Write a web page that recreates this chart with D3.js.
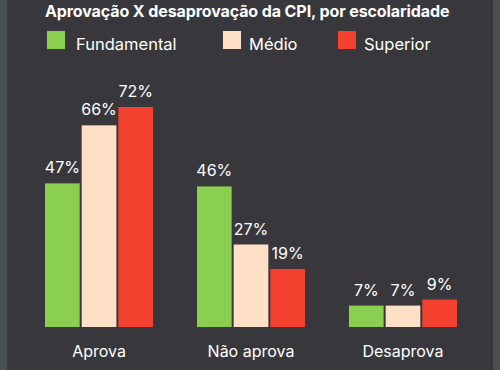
<!DOCTYPE html>
<html>
<head>
<meta charset="utf-8">
<script src="https://cdn.jsdelivr.net/npm/d3@7"></script>
<style>
  html, body { margin: 0; padding: 0; background: #38383c; }
  svg { display: block; }
  text { font-family: "Inter", "Roboto", sans-serif; fill: #fff; }
</style>
</head>
<body>
<div id="chart"></div>
<script>
var categories = ["Aprova", "Não aprova", "Desaprova"];
var series = ["Fundamental", "Médio", "Superior"];
var fundamental = [47, 46, 7];
var medio = [66, 27, 7];
var superior = [72, 19, 9];
var colors = ["#8bcf50", "#fde0c5", "#f4402f"];

var width = 500, height = 370;
var values = [fundamental, medio, superior];

var svg = d3.select("#chart").append("svg")
    .attr("width", width)
    .attr("height", height);

svg.append("rect").attr("width", width).attr("height", height).attr("fill", "#38383c");
// side strips of the screenshot
svg.append("rect").attr("x", 0).attr("y", 0).attr("width", 7).attr("height", height).attr("fill", "#4a4f52");
svg.append("rect").attr("x", 493).attr("y", 0).attr("width", 7).attr("height", height).attr("fill", "#4a4f52");

svg.append("text")
    .attr("x", 45).attr("y", 17)
    .attr("font-size", 16)
    .attr("font-weight", 700)
    .attr("letter-spacing", -0.1)
    .text("Aprovação X desaprovação da CPI, por escolaridade");

// legend
var legendX = [47, 223, 338];
var legend = svg.selectAll("g.legend")
    .data(series)
  .enter().append("g")
    .attr("class", "legend")
    .attr("transform", function(d, i) { return "translate(" + legendX[i] + ",31)"; });

legend.append("rect")
    .attr("width", 18).attr("height", 18)
    .attr("fill", function(d, i) { return colors[i]; });

legend.append("text")
    .attr("x", function(d, i) { return i == 0 ? 29 : 26; })
    .attr("y", 19)
    .attr("font-size", 16.5)
    .text(function(d) { return d; });

var x0 = d3.scaleBand()
    .domain(categories)
    .range([45, 457])
    .paddingInner(0.289)
    .paddingOuter(0);

var x1 = d3.scaleBand()
    .domain(series)
    .range([0, x0.bandwidth()])
    .paddingInner(0.055);

var y = d3.scaleLinear()
    .domain([0, 72])
    .range([327, 107]);

var rows = categories.map(function(c, ci) {
  return series.map(function(s, si) {
    return {cat: c, s: s, si: si, v: values[si][ci]};
  });
});

var groups = svg.selectAll("g.group")
    .data(rows)
  .enter().append("g")
    .attr("class", "group")
    .attr("transform", function(d, i) { return "translate(" + x0(categories[i]) + ",0)"; });

groups.selectAll("rect")
    .data(function(d) { return d; })
  .enter().append("rect")
    .attr("x", function(d) { return x1(d.s); })
    .attr("y", function(d) { return y(d.v); })
    .attr("width", x1.bandwidth())
    .attr("height", function(d) { return y(0) - y(d.v); })
    .attr("fill", function(d) { return colors[d.si]; });

groups.selectAll("text")
    .data(function(d) { return d; })
  .enter().append("text")
    .attr("x", function(d) { return x1(d.s) + x1.bandwidth() / 2; })
    .attr("y", function(d) { return y(d.v) - 10; })
    .attr("text-anchor", "middle")
    .attr("font-size", 16)
    .text(function(d) { return d.v + "%"; });

var xAxis = svg.append("g")
    .attr("transform", "translate(0,327)")
    .call(d3.axisBottom(x0).tickSize(0).tickPadding(19));
xAxis.select(".domain").remove();
xAxis.selectAll("text")
    .attr("font-size", 16)
    .attr("font-family", "Inter, Roboto, sans-serif")
    .attr("fill", "#fff");
</script>
</body>
</html>
